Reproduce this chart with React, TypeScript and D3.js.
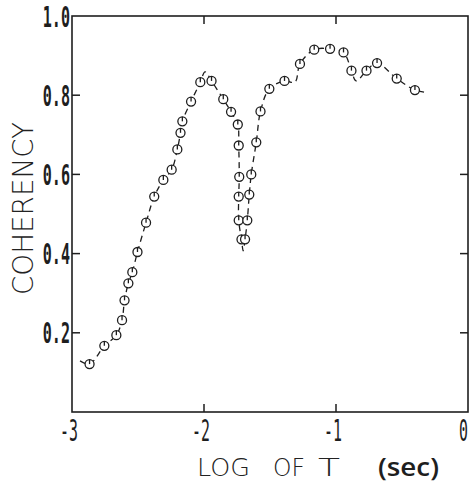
import React from "react";
import * as d3 from "d3";

// Coherency estimates (markers) against log10 of period T in seconds
const pointT = [
  -2.867, -2.755, -2.664, -2.621, -2.602, -2.573, -2.543, -2.504, -2.439, -2.377,
  -2.308, -2.245, -2.202, -2.178, -2.164, -2.098, -2.028, -1.943, -1.854, -1.795,
  -1.744, -1.737, -1.733, -1.737, -1.737, -1.716, -1.689, -1.672, -1.657, -1.642,
  -1.604, -1.572, -1.505, -1.39, -1.273, -1.165, -1.045, -0.943, -0.883, -0.769,
  -0.689, -0.54, -0.402,
];
const pointC = [
  0.121, 0.167, 0.194, 0.232, 0.282, 0.325, 0.353, 0.404, 0.478, 0.544,
  0.586, 0.612, 0.663, 0.705, 0.734, 0.784, 0.833, 0.836, 0.79, 0.758,
  0.726, 0.673, 0.594, 0.544, 0.484, 0.436, 0.436, 0.484, 0.549, 0.6,
  0.681, 0.759, 0.816, 0.836, 0.879, 0.915, 0.917, 0.908, 0.862, 0.862,
  0.881, 0.842, 0.813,
];

// Smoothed dashed trace drawn through the estimates
const curveT = [
  -2.939, -2.867, -2.755, -2.664, -2.621, -2.602, -2.573, -2.543, -2.504, -2.439,
  -2.377, -2.308, -2.245, -2.202, -2.178, -2.164, -2.098, -2.028, -1.992, -1.943,
  -1.854, -1.795, -1.744, -1.737, -1.733, -1.737, -1.737, -1.716, -1.703, -1.689,
  -1.672, -1.657, -1.642, -1.604, -1.572, -1.505, -1.39, -1.311, -1.273, -1.165,
  -1.045, -0.943, -0.883, -0.848, -0.769, -0.689, -0.54, -0.402, -0.333,
];
const curveC = [
  0.129, 0.121, 0.167, 0.194, 0.232, 0.282, 0.325, 0.353, 0.404, 0.478,
  0.544, 0.586, 0.612, 0.663, 0.705, 0.734, 0.784, 0.833, 0.859, 0.836,
  0.79, 0.758, 0.726, 0.673, 0.594, 0.544, 0.484, 0.436, 0.407, 0.436,
  0.484, 0.549, 0.6, 0.681, 0.759, 0.816, 0.836, 0.833, 0.879, 0.915,
  0.917, 0.908, 0.862, 0.836, 0.862, 0.881, 0.842, 0.813, 0.808,
];

const xTicks = [-3, -2, -1, 0];
const xTickLabels = ["-3", "-2", "-1", "0"];
const yTicks = [0.2, 0.4, 0.6, 0.8, 1.0];
const yTickLabels = ["0.2", "0.4", "0.6", "0.8", "1.0"];

const W = 473;
const H = 484;
const left = 72;
const right = 468;
const top = 16;
const bottom = 412;
const ink = "#1e1e1e";

export default function App() {
  const x = d3.scaleLinear().domain([-3, 0]).range([left, right]);
  const y = d3.scaleLinear().domain([0, 1]).range([bottom, top]);

  const curveData = curveT.map((t, i) => [t, curveC[i]] as [number, number]);
  const line = d3
    .line<[number, number]>()
    .x((d) => x(d[0]))
    .y((d) => y(d[1]))
    .curve(d3.curveCatmullRom.alpha(0.5));

  const tickLen = 8;
  const r = 4.5;

  return (
    <svg
      width={W}
      height={H}
      style={{ position: "absolute", left: 0, top: 0, background: "#fff" }}
    >
      <rect x={0} y={0} width={W} height={H} fill="#fff" />

      {/* dashed trace */}
      <path
        d={line(curveData) ?? ""}
        fill="none"
        stroke={ink}
        strokeWidth={1.3}
        strokeDasharray="6 4.5"
      />

      {/* markers */}
      {pointT.map((t, i) => (
        <g key={i} transform={`translate(${x(t)},${y(pointC[i])})`}>
          <circle r={r} fill="#fff" stroke={ink} strokeWidth={1.3} />
          <line x1={0} y1={-r} x2={0} y2={0} stroke={ink} strokeWidth={1.3} />
        </g>
      ))}

      {/* frame */}
      <rect
        x={left}
        y={top}
        width={right - left}
        height={bottom - top}
        fill="none"
        stroke={ink}
        strokeWidth={1.6}
      />

      {/* x ticks, top and bottom, pointing inward */}
      {xTicks
        .filter((t) => t > -3 && t < 0)
        .map((t) => (
          <g key={`xt${t}`}>
            <line x1={x(t)} x2={x(t)} y1={bottom} y2={bottom - tickLen} stroke={ink} strokeWidth={1.5} />
            <line x1={x(t)} x2={x(t)} y1={top} y2={top + tickLen} stroke={ink} strokeWidth={1.5} />
          </g>
        ))}

      {/* y ticks, left and right, pointing inward */}
      {yTicks
        .filter((v) => v < 1)
        .map((v) => (
          <g key={`yt${v}`}>
            <line x1={left} x2={left + tickLen} y1={y(v)} y2={y(v)} stroke={ink} strokeWidth={1.5} />
            <line x1={right} x2={right - tickLen} y1={y(v)} y2={y(v)} stroke={ink} strokeWidth={1.5} />
          </g>
        ))}

      {/* y tick labels */}
      {yTicks.map((v, i) => (
        <text
          key={`yl${v}`}
          transform={`translate(${left - 2},${y(v) + 10.5}) scale(0.52,1)`}
          textAnchor="end"
          fontFamily="'DejaVu Sans Mono', monospace"
          fontSize={29}
          fontWeight="bold"
          fill={ink}
        >
          {yTickLabels[i]}
        </text>
      ))}

      {/* x tick labels */}
      {xTicks.map((t, i) => (
        <text
          key={`xl${t}`}
          transform={`translate(${t === 0 ? x(t) : x(t) - 3},${441}) scale(0.48,1)`}
          textAnchor={t === 0 ? "end" : "middle"}
          fontFamily="'DejaVu Sans Mono', monospace"
          fontSize={31}
          fill={ink}
        >
          {xTickLabels[i]}
        </text>
      ))}

      {/* axis titles */}
      <text
        transform={`translate(33,295) rotate(-90)`}
        fontFamily="'DejaVu Sans', sans-serif"
        fontWeight={200}
        fontSize={29}
        textLength={173}
        lengthAdjust="spacingAndGlyphs"
        fill="#222"
      >
        COHERENCY
      </text>
      <text
        x={197}
        y={476}
        fontFamily="'DejaVu Sans', sans-serif"
        fontWeight={200}
        fontSize={25}
        textLength={53}
        lengthAdjust="spacingAndGlyphs"
        fill="#222"
      >
        LOG
      </text>
      <text
        x={273}
        y={476}
        fontFamily="'DejaVu Sans', sans-serif"
        fontWeight={200}
        fontSize={25}
        textLength={32}
        lengthAdjust="spacingAndGlyphs"
        fill="#222"
      >
        OF
      </text>
      <text
        x={318}
        y={476}
        fontFamily="'DejaVu Sans', sans-serif"
        fontWeight={200}
        fontSize={25}
        textLength={22}
        lengthAdjust="spacingAndGlyphs"
        fill="#222"
      >
        T
      </text>
      <text
        x={378}
        y={476}
        fontFamily="'Open Sans', 'DejaVu Sans', sans-serif"
        fontWeight={600}
        fontSize={26}
        textLength={61}
        lengthAdjust="spacingAndGlyphs"
        fill={ink}
      >
        (sec)
      </text>
    </svg>
  );
}
